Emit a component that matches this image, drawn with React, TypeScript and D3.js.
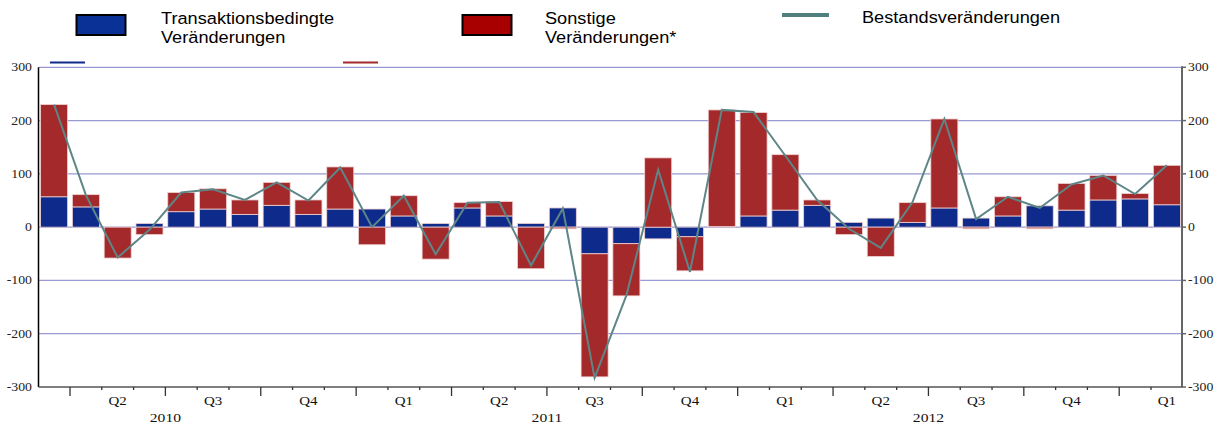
import React from 'react';
import * as d3 from 'd3';

// months shown on the x axis (Mar 2010 - Feb 2013)
const months = [
  '2010-03', '2010-04', '2010-05', '2010-06', '2010-07', '2010-08', '2010-09', '2010-10', '2010-11', '2010-12',
  '2011-01', '2011-02', '2011-03', '2011-04', '2011-05', '2011-06', '2011-07', '2011-08', '2011-09', '2011-10',
  '2011-11', '2011-12', '2012-01', '2012-02', '2012-03', '2012-04', '2012-05', '2012-06', '2012-07', '2012-08',
  '2012-09', '2012-10', '2012-11', '2012-12', '2013-01', '2013-02',
];

// Transaktionsbedingte Veränderungen
const transaktion = [57, 38, 0, 7, 29, 34, 24, 41, 24, 34, 34, 21, 7, 36, 21, 7, 36, -50, -31, -22, -18, 1, 21, 32, 41, 9, 17, 9, 36, 17, 21, 40, 32, 51, 53, 42];
// Sonstige Veränderungen*
const sonstige = [173, 23, -58, -14, 36, 38, 27, 43, 27, 79, -33, 38, -60, 10, 27, -78, -3, -231, -98, 130, -64, 219, 194, 104, 10, -14, -55, 37, 167, -3, 36, -3, 50, 46, 10, 74];
// Bestandsveränderungen (line)
const bestand = [230, 60, -57, -5, 65, 71, 51, 84, 50, 112, 0, 59, -51, 46, 47, -72, 35, -283, -128, 108, -84, 220, 216, 134, 51, -3, -39, 47, 203, 15, 57, 36, 80, 97, 62, 116];

const quarterLabels = ['Q2', 'Q3', 'Q4', 'Q1', 'Q2', 'Q3', 'Q4', 'Q1', 'Q2', 'Q3', 'Q4', 'Q1'];
const yearLabels = ['2010', '2011', '2012'];
const yTicks = [300, 200, 100, 0, -100, -200, -300];

const W = 1223;
const H = 427;
const BLUE = '#0e2b8b';
const RED = '#a3292b';
const LINE = '#5f8687';
const GRID = '#9a9ad2';
const SERIF = '"Liberation Serif", "Times New Roman", serif';
const SANS = '"Liberation Sans", Arial, sans-serif';

export default function App() {
  const x = d3.scaleBand<string>().domain(months).range([39, 1182]).paddingInner(0.15).paddingOuter(0.05);
  const y = d3.scaleLinear().domain([-300, 300]).range([387, 67.3]);
  const step = x.step();
  const bw = x.bandwidth();
  const boundary = (k: number) => (x(months[0]) as number) - (step - bw) / 2 + k * step;
  const cx = (i: number) => (x(months[i]) as number) + bw / 2;

  const rows = months.map((m, i) => ({ month: m, trans: transaktion[i], sonst: sonstige[i] }));
  const series = d3.stack<any>().keys(['trans', 'sonst']).offset(d3.stackOffsetDiverging)(rows);
  const colors: Record<string, string> = { trans: BLUE, sonst: RED };

  const line = d3.line<number>().x((_, i) => cx(i)).y((d) => y(d));

  const xAxisY = y(-300);

  return (
    <svg width={W} height={H} style={{ position: 'absolute', left: 0, top: 0, background: '#fff' }}>
      {/* legend */}
      <g fontFamily={SANS} fontSize={17} fill="#000">
        <rect x={76.5} y={15} width={49} height={20} fill="#0a3296" stroke="#000" strokeWidth={2} />
        <text transform="translate(161,24) scale(1.07,1)">Transaktionsbedingte</text>
        <text transform="translate(161,43) scale(1.07,1)">Veränderungen</text>
        <rect x={462.5} y={15} width={49} height={20} fill="#a80000" stroke="#000" strokeWidth={2} />
        <text transform="translate(545,24) scale(1.07,1)">Sonstige</text>
        <text transform="translate(545,43) scale(1.07,1)">Veränderungen*</text>
        <line x1={782} x2={829} y1={15} y2={15} stroke="#4f7f7f" strokeWidth={4} />
        <text transform="translate(862,23) scale(1.07,1)">Bestandsveränderungen</text>
      </g>
      {/* remnants of hidden legend */}
      <line x1={50} x2={85} y1={62.5} y2={62.5} stroke={BLUE} strokeWidth={2} />
      <line x1={343} x2={378} y1={62.5} y2={62.5} stroke={RED} strokeWidth={2} />

      {/* gridlines */}
      {yTicks.filter((t) => t !== -300).map((t) => (
        <line key={t} x1={39} x2={1182} y1={y(t)} y2={y(t)} stroke={GRID} strokeWidth={1.2} />
      ))}

      {/* stacked bars */}
      {series.map((s) => (
        <g key={s.key} fill={colors[s.key]}>
          {s.map((d, i) => {
            const y0 = y(d[0]);
            const y1 = y(d[1]);
            const h = Math.abs(y0 - y1);
            if (h < 0.1) return null;
            return (
              <rect key={i} x={x(months[i])} y={Math.min(y0, y1)} width={bw} height={h}
                stroke="#f1d2d2" strokeWidth={0.8} />
            );
          })}
        </g>
      ))}

      {/* Bestandsveränderungen line */}
      <path d={line(bestand) || ''} fill="none" stroke={LINE} strokeWidth={2} strokeLinejoin="miter" />

      {/* axes */}
      <line x1={38.5} x2={38.5} y1={y(300)} y2={xAxisY} stroke="#000" strokeWidth={1.5} />
      <line x1={1182} x2={1182} y1={y(300) - 1} y2={xAxisY} stroke="#666" strokeWidth={2} />
      <line x1={38.5} x2={1183} y1={xAxisY} y2={xAxisY} stroke="#555" strokeWidth={1.5} />
      {d3.range(1, 36).map((k) => (
        <line key={k} x1={boundary(k)} x2={boundary(k)} y1={xAxisY} y2={xAxisY + ((k - 1) % 3 === 0 ? 9 : 3)}
          stroke="#333" strokeWidth={1.3} />
      ))}
      {yTicks.map((t) => (
        <line key={t} x1={1182} x2={1186} y1={y(t)} y2={y(t)} stroke="#666" strokeWidth={1.5} />
      ))}

      {/* y labels */}
      <g fontFamily={SERIF} fontSize={12} fill="#222">
        {yTicks.map((t) => (
          <text key={'l' + t} textAnchor="end" transform={`translate(32,${y(t) + 4}) scale(1.15,1)`}>{t}</text>
        ))}
        {yTicks.map((t) => (
          <text key={'r' + t} textAnchor="start" transform={`translate(1188,${y(t) + 4}) scale(1.15,1)`}>{t}</text>
        ))}
      </g>

      {/* x labels */}
      <g fontFamily={SERIF} fill="#111" textAnchor="middle">
        {quarterLabels.map((q, k) => (
          <text key={k} fontSize={12.5} transform={`translate(${cx(2 + 3 * k)},405) scale(1.2,1)`}>{q}</text>
        ))}
        {yearLabels.map((yr, k) => (
          <text key={yr} fontSize={13} transform={`translate(${boundary(4 + 12 * k)},422) scale(1.2,1)`}>{yr}</text>
        ))}
      </g>
    </svg>
  );
}
